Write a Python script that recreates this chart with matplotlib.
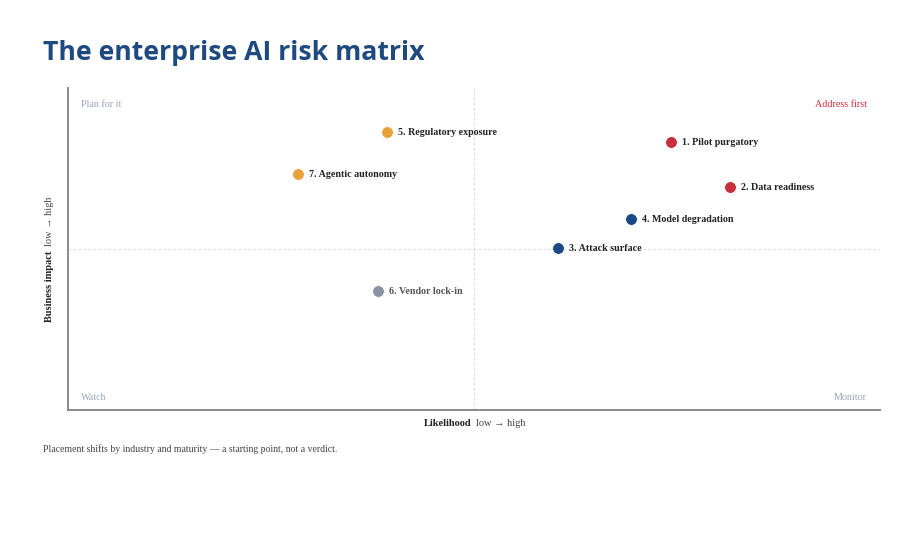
import matplotlib
matplotlib.use("Agg")
import matplotlib.pyplot as plt

names = ["1. Pilot purgatory", "2. Data readiness", "3. Attack surface", "4. Model degradation",
         "5. Regulatory exposure", "6. Vendor lock-in", "7. Agentic autonomy"]
likelihood = [7.43, 8.15, 6.03, 6.93, 3.93, 3.82, 2.83]
impact = [8.32, 6.93, 5.03, 5.93, 8.63, 3.70, 7.33]
groups = ["red", "red", "blue", "blue", "orange", "grey", "orange"]
colors = {"red": "#c62f3b", "blue": "#1d4a85", "orange": "#e9a23b", "grey": "#8c93a3"}
label_colors = {"red": "#222222", "blue": "#222222", "orange": "#222222", "grey": "#555555"}
quadrants = [("Plan for it", "left", "top"), ("Address first", "right", "top"),
             ("Watch", "left", "bottom"), ("Monitor", "right", "bottom")]

W, H = 924, 540
fig = plt.figure(figsize=(W / 100, H / 100), dpi=100)
ax = fig.add_axes([68 / W, 1 - 410 / H, (880 - 68) / W, (410 - 88) / H])
ax.set_xlim(0, 10)
ax.set_ylim(0, 10)
for s in ["top", "right"]:
    ax.spines[s].set_visible(False)
for s in ["left", "bottom"]:
    ax.spines[s].set_color("#8a8a8a")
    ax.spines[s].set_linewidth(1.4)
ax.set_xticks([])
ax.set_yticks([])

ax.axvline(5, color="#dcdcdc", lw=0.8, ls=(0, (2.5, 2)), zorder=0)
ax.axhline(5, color="#dcdcdc", lw=0.8, ls=(0, (2.5, 2)), zorder=0)

serif = "Liberation Serif"
for x, y, n, g in zip(likelihood, impact, names, groups):
    ax.scatter([x], [y], s=72, color=colors[g], zorder=3, edgecolors="white", linewidths=0.6)
    ax.annotate(n, (x, y), xytext=(8, -0.5), textcoords="offset points", va="center", ha="left",
                fontsize=7.2, fontweight="bold", family=serif, color=label_colors[g])

for text, hz, vt in quadrants:
    xx = 0.016 if hz == "left" else 0.984
    yy = 0.95 if vt == "top" else 0.04
    col = "#c62f3b" if text == "Address first" else "#9aa5ba"
    ax.text(xx, yy, text, transform=ax.transAxes, ha=hz, va="center", fontsize=7.2,
            family=serif, color=col)

# x label
fig.text(471 / W, 1 - 424 / H, "Likelihood", ha="right", va="center", fontsize=7.5,
         fontweight="bold", family=serif, color="#222222")
fig.text(476 / W, 1 - 424 / H, "low \u2192 high", ha="left", va="center", fontsize=7.5,
         family=serif, color="#444444")
# y label
fig.text(49 / W, 1 - 251 / H, "Business impact", ha="center", va="top", rotation=90,
         fontsize=7.5, fontweight="bold", family=serif, color="#222222")
fig.text(49 / W, 1 - 246 / H, "low \u2192 high", ha="center", va="bottom", rotation=90,
         fontsize=7.5, family=serif, color="#444444")

fig.text(43 / W, 1 - 53 / H, "The enterprise AI risk matrix", ha="left", va="center",
         fontsize=19.2, fontweight="bold", family="Open Sans", color="#1f4a80")
fig.text(43 / W, 1 - 449 / H, "Placement shifts by industry and maturity \u2014 a starting point, not a verdict.",
         ha="left", va="center", fontsize=7, family=serif, color="#444444")

fig.savefig("out.png", dpi=100, facecolor="white")
